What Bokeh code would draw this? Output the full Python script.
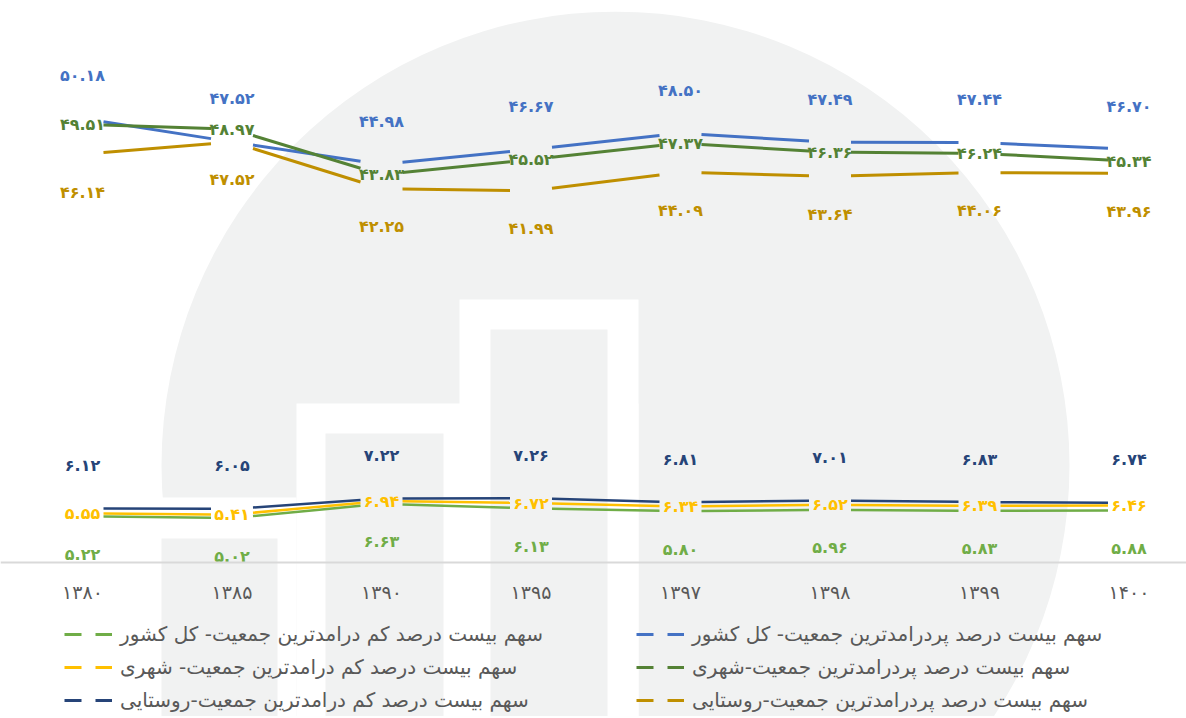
from bokeh.plotting import figure
from bokeh.models import FixedTicker, Legend, LegendItem, Range1d
from bokeh.core.properties import value
from bokeh.embed import file_html
from bokeh.resources import INLINE

# ---------------- data ----------------
years = [1380, 1385, 1390, 1395, 1397, 1398, 1399, 1400]
top_total = [50.18, 47.52, 44.98, 46.67, 48.50, 47.49, 47.44, 46.70]
top_urban = [49.51, 48.97, 43.83, 45.52, 47.37, 46.36, 46.24, 45.34]
top_rural = [46.14, 47.52, 42.25, 41.99, 44.09, 43.64, 44.06, 43.96]
low_total = [5.22, 5.02, 6.63, 6.13, 5.80, 5.96, 5.83, 5.88]
low_urban = [5.55, 5.41, 6.94, 6.72, 6.34, 6.52, 6.39, 6.46]
low_rural = [6.12, 6.05, 7.22, 7.26, 6.81, 7.01, 6.83, 6.74]

name_low_total = "سهم بیست درصد کم درامدترین جمعیت- کل کشور"
name_low_urban = "سهم بیست درصد کم درامدترین جمعیت- شهری"
name_low_rural = "سهم بیست درصد کم درامدترین جمعیت-روستایی"
name_top_total = "سهم بیست درصد پردرامدترین جمعیت- کل کشور"
name_top_urban = "سهم بیست درصد پردرامدترین جمعیت-شهری"
name_top_rural = "سهم بیست درصد پردرامدترین جمعیت-روستایی"

FA = str.maketrans("0123456789", "۰۱۲۳۴۵۶۷۸۹")
FONT = "DejaVu Sans"

# ---------------- layout ----------------
W, H = 1186, 716
X_PX = 149.5      # pixels per category
X0 = 82           # canvas px of first category
Y_PX = 8.85       # pixels per unit
Y0 = 562          # canvas px of value 0

p = figure(width=W, height=H, output_backend="svg", toolbar_location=None,
           x_range=Range1d(-X0 / X_PX, (W - X0) / X_PX),
           y_range=Range1d(-(H - Y0) / Y_PX, Y0 / Y_PX),
           y_axis_location=None, min_border=0)
p.outline_line_color = None
p.background_fill_color = "white"
p.border_fill_color = "white"
p.xgrid.visible = False
p.ygrid.visible = False
p.extra_y_ranges = {"legend_only": Range1d(start=1000, end=1001)}


def fx(px):   # canvas px -> data x (background decoration only)
    return (px - X0) / X_PX


def fy(py):   # canvas px -> data y (background decoration only)
    return (Y0 - py) / Y_PX


# ---------------- background watermark (decoration) ----------------
WM = "#F1F2F2"
p.circle(x=[fx(615)], y=[fy(465)], radius=454, radius_units="screen",
         fill_color=WM, line_color=None)
p.quad(left=[fx(296), fx(459), fx(150)], right=[fx(638), fx(638), fx(296)],
       top=[fy(403), fy(299), fy(497)], bottom=[fy(740)] * 3,
       fill_color="white", line_color=None)
p.quad(left=[fx(161), fx(325), fx(490)], right=[fx(277), fx(443), fx(607)],
       top=[fy(538), fy(433), fy(329)], bottom=[fy(740)] * 3,
       fill_color=WM, line_color=None)

# ---------------- series ----------------
GAP = 21 / X_PX   # gap around each data point (category units)

series = [
    # values, color, width, label position, legend name
    (low_total, "#70AD47", 2.5, "below", name_low_total),
    (low_urban, "#FFC000", 2.5, "center", name_low_urban),
    (low_rural, "#264478", 2.5, "above", name_low_rural),
    (top_total, "#4472C4", 3, "above", name_top_total),
    (top_urban, "#548235", 3, "center", name_top_urban),
    (top_rural, "#BF8F00", 3, "below", name_top_rural),
]

OFFS = {"above": -43, "center": 0, "below": 38}
xs = list(range(len(years)))
legend_renderers = []
for vals, color, lw, pos, name in series:
    x0s, y0s, x1s, y1s = [], [], [], []
    for i in range(len(vals) - 1):
        a, b = vals[i], vals[i + 1]
        x0s.append(i + GAP)
        x1s.append(i + 1 - GAP)
        y0s.append(a + (b - a) * GAP)
        y1s.append(b - (b - a) * GAP)
    p.segment(x0=x0s, y0=y0s, x1=x1s, y1=y1s, line_color=color,
              line_width=lw, line_cap="butt")
    # legend key only (drawn on an off-screen range): line with a gap
    key = p.line(x=xs, y=vals, y_range_name="legend_only", line_color=color,
                 line_width=3, line_dash="17 14")
    legend_renderers.append((name, key))

for vals, color, lw, pos, name in series:
    labels = [f"{v:.2f}".translate(FA) for v in vals]
    p.text(x=xs, y=vals, text=labels, y_offset=OFFS[pos],
           text_align="center", text_baseline="middle",
           text_font=value(FONT), text_font_style="bold",
           text_font_size="16px", text_color=color)

# ---------------- x axis ----------------
ax = p.xaxis[0]
ax.fixed_location = 0
ax.ticker = FixedTicker(ticks=xs)
ax.major_label_overrides = {i: str(y).translate(FA) for i, y in enumerate(years)}
ax.axis_line_color = "#D9D9D9"
ax.axis_line_width = 2
ax.major_tick_line_color = None
ax.minor_tick_line_color = None
ax.major_tick_out = 0
ax.major_tick_in = 0
ax.major_label_standoff = 18
ax.major_label_text_font = FONT
ax.major_label_text_font_size = "19px"
ax.major_label_text_color = "#595959"


# ---------------- legends ----------------
def make_legend(items, x):
    leg = Legend(items=[LegendItem(label=n, renderers=[r]) for n, r in items],
                 location=(x, 4), orientation="vertical",
                 padding=0, margin=0, spacing=9,
                 glyph_width=48, glyph_height=24, label_height=24,
                 label_standoff=8, border_line_color=None,
                 background_fill_alpha=0,
                 label_text_font=FONT, label_text_font_size="20px",
                 label_text_color="#595959")
    p.add_layout(leg)


make_legend(legend_renderers[:3], 64)
make_legend(legend_renderers[3:], 636)

open("out.html", "w").write(file_html(p, INLINE))
